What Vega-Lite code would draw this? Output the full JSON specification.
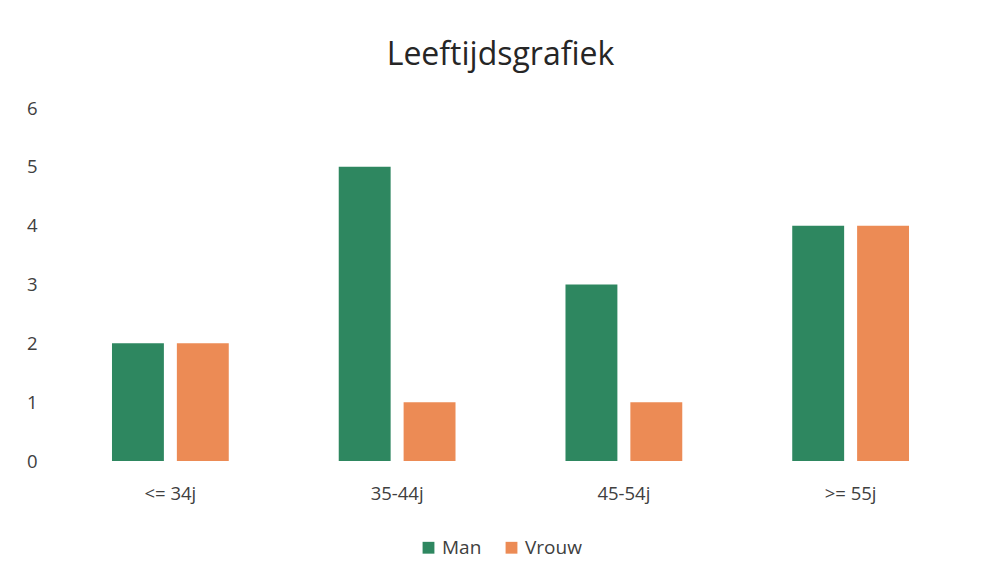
{
  "$schema": "https://vega.github.io/schema/vega-lite/v6.json",
  "width": 907,
  "height": 353,
  "autosize": {"type": "none"},
  "padding": {"left": 57, "top": 108, "right": 17, "bottom": 117},
  "background": "white",
  "title": {
    "text": "Leeftijdsgrafiek",
    "fontSize": 32,
    "font": "Open Sans",
    "fontWeight": "normal",
    "color": "#262626",
    "anchor": "middle",
    "dx": -10,
    "offset": 27
  },
  "data": {
    "values": [
      {"leeftijd": "<= 34j", "geslacht": "Man", "aantal": 2},
      {"leeftijd": "<= 34j", "geslacht": "Vrouw", "aantal": 2},
      {"leeftijd": "35-44j", "geslacht": "Man", "aantal": 5},
      {"leeftijd": "35-44j", "geslacht": "Vrouw", "aantal": 1},
      {"leeftijd": "45-54j", "geslacht": "Man", "aantal": 3},
      {"leeftijd": "45-54j", "geslacht": "Vrouw", "aantal": 1},
      {"leeftijd": ">= 55j", "geslacht": "Man", "aantal": 4},
      {"leeftijd": ">= 55j", "geslacht": "Vrouw", "aantal": 4}
    ]
  },
  "mark": {"type": "bar"},
  "encoding": {
    "x": {
      "field": "leeftijd",
      "type": "nominal",
      "sort": null,
      "scale": {"paddingInner": 0.485, "paddingOuter": 0.2425},
      "axis": {
        "title": null,
        "labelAngle": 0,
        "domain": false,
        "ticks": false,
        "labelPadding": 23,
        "labelFontSize": 18.5,
        "labelFont": "Open Sans",
        "labelColor": "#404040"
      }
    },
    "xOffset": {
      "field": "geslacht",
      "type": "nominal",
      "scale": {"paddingInner": 0.2, "paddingOuter": 0}
    },
    "y": {
      "field": "aantal",
      "type": "quantitative",
      "scale": {"domain": [0, 6]},
      "axis": {
        "title": null,
        "grid": false,
        "domain": false,
        "ticks": false,
        "values": [0, 1, 2, 3, 4, 5, 6],
        "labelPadding": 20,
        "labelFontSize": 18.5,
        "labelFont": "Open Sans",
        "labelColor": "#404040"
      }
    },
    "color": {
      "field": "geslacht",
      "type": "nominal",
      "scale": {"domain": ["Man", "Vrouw"], "range": ["#2e8760", "#ec8b55"]},
      "legend": {
        "title": null,
        "orient": "none",
        "direction": "horizontal",
        "legendX": 362,
        "legendY": 430,
        "symbolType": "square",
        "symbolSize": 140,
        "labelFontSize": 19,
        "labelFont": "Open Sans",
        "labelColor": "#404040",
        "columnPadding": 20,
        "labelOffset": 4
      }
    }
  },
  "config": {"view": {"stroke": null}}
}
